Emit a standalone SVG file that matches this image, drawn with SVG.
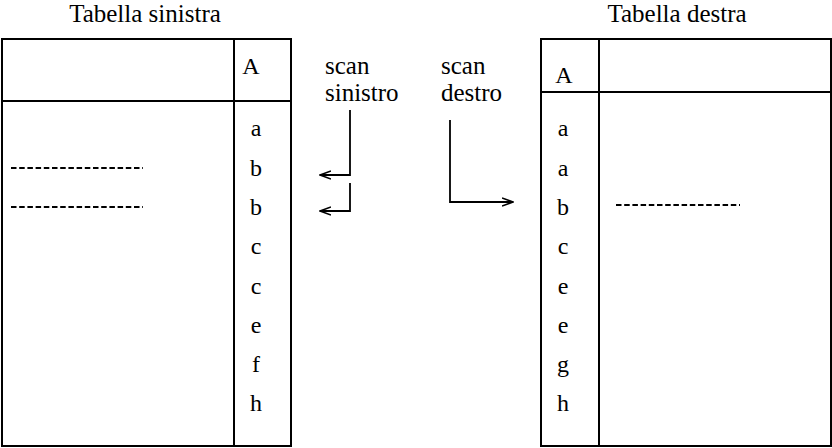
<svg xmlns="http://www.w3.org/2000/svg" width="832" height="448" viewBox="0 0 832 448" font-family="'Liberation Serif', 'Times New Roman', 'DejaVu Serif', serif" font-size="24">
<defs>
<marker id="arr" viewBox="0 0 12 10" refX="11" refY="5" markerWidth="12" markerHeight="10" markerUnits="userSpaceOnUse" orient="auto">
<path d="M0,1 L11,5 L0,9" fill="none" stroke="#000" stroke-width="1.6"/>
</marker>
</defs>
<style>
text{fill:#000}
.c{text-anchor:middle}
.t{font-size:25px}
.ln{fill:none;stroke:#000;stroke-width:2}
.d{fill:none;stroke:#000;stroke-width:2;stroke-dasharray:5.5 2.7}
.a{fill:none;stroke:#000;stroke-width:1.8;marker-end:url(#arr)}
</style>
<rect width="832" height="448" fill="#fff"/>
<g id="left-table">
<text class="c t" x="145" y="22">Tabella sinistra</text>
<rect class="ln" x="2" y="39" width="289" height="407"/>
<line class="ln" x1="2" y1="101" x2="291" y2="101"/>
<line class="ln" x1="234" y1="39" x2="234" y2="446"/>
<text class="c" x="251" y="74">A</text>
<text class="c" x="256" y="136">a</text>
<text class="c" x="256" y="176">b</text>
<text class="c" x="256" y="215">b</text>
<text class="c" x="256" y="254">c</text>
<text class="c" x="256" y="294">c</text>
<text class="c" x="256" y="333">e</text>
<text class="c" x="256" y="372">f</text>
<text class="c" x="256" y="411">h</text>
<line class="d" x1="11" y1="168" x2="143" y2="168"/>
<line class="d" x1="11" y1="207" x2="143" y2="207"/>
</g>
<g id="right-table">
<text class="c t" x="677" y="22">Tabella destra</text>
<rect class="ln" x="541" y="39" width="290" height="407"/>
<line class="ln" x1="541" y1="92" x2="831" y2="92"/>
<line class="ln" x1="599" y1="39" x2="599" y2="446"/>
<text class="c" x="564" y="83">A</text>
<text class="c" x="563" y="136">a</text>
<text class="c" x="563" y="176">a</text>
<text class="c" x="563" y="215">b</text>
<text class="c" x="563" y="254">c</text>
<text class="c" x="563" y="294">e</text>
<text class="c" x="563" y="333">e</text>
<text class="c" x="563" y="372">g</text>
<text class="c" x="563" y="411">h</text>
<line class="d" x1="616" y1="205" x2="740" y2="205"/>
</g>
<g id="scan-sinistro">
<text class="t" x="325" y="74">scan</text>
<text class="t" x="325" y="101">sinistro</text>
</g>
<g id="scan-destro">
<text class="t" x="441" y="74">scan</text>
<text class="t" x="441" y="101">destro</text>
</g>
<g id="connectors">
<path class="a" d="M350,110 V175 H320"/>
<path class="a" d="M350,183 V211 H320"/>
<path class="a" d="M450,120 V202 H513"/>
</g>
</svg>
